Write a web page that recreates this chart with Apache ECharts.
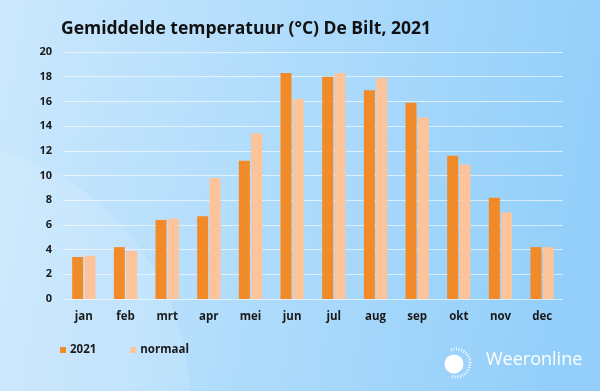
<!DOCTYPE html>
<html>
<head>
<meta charset="utf-8">
<script src="https://cdn.jsdelivr.net/npm/echarts@6/dist/echarts.min.js"></script>
<style>html,body{margin:0;padding:0;}#c{width:600px;height:391px;}</style>
</head>
<body>
<div id="c"></div>
<script>
const categories = ['jan','feb','mrt','apr','mei','jun','jul','aug','sep','okt','nov','dec'];
const values2021 = [3.4, 4.2, 6.4, 6.7, 11.2, 18.3, 18.0, 16.9, 15.9, 11.6, 8.2, 4.2];
const valuesNormaal = [3.5, 3.9, 6.5, 9.8, 13.4, 16.2, 18.3, 17.9, 14.7, 10.9, 7.0, 4.2];
const yTicks = [0, 2, 4, 6, 8, 10, 12, 14, 16, 18, 20];

const chart = echarts.init(document.getElementById('c'));
const font = '"Open Sans", "Noto Sans", sans-serif';
chart.setOption({
  backgroundColor: {
    type: 'linear', x: 0, y: 0, x2: 1, y2: 0.3,
    colorStops: [{offset: 0, color: '#cbe8fd'}, {offset: 1, color: '#93cffa'}]
  },
  graphic: [
    { type: 'circle', z: -10, shape: {cx: -72, cy: 402, r: 262}, style: {fill: 'rgba(255,255,255,0.13)'} },
    { type: 'circle', shape: {cx: 454, cy: 364, r: 9.5}, style: {fill: '#ffffff'} },
    { type: 'arc', shape: {cx: 456, cy: 363, r: 14, startAngle: -Math.PI * 0.62, endAngle: Math.PI * 0.62}, style: {fill: 'none', stroke: 'rgba(255,255,255,0.9)', lineWidth: 3, lineDash: [1, 1.6]} },
    { type: 'text', left: 486, top: 351, style: {text: 'Weeronline', fill: '#ffffff', font: '18px ' + font} }
  ],
  title: {
    text: 'Gemiddelde temperatuur (°C) De Bilt, 2021',
    left: 56, top: 15,
    textStyle: {fontFamily: font, fontWeight: 'bold', fontSize: 17.5, color: '#111'}
  },
  legend: {
    left: 55, top: 339,
    itemWidth: 6, itemHeight: 6, itemGap: 34,
    icon: 'rect',
    textStyle: {fontFamily: font, fontWeight: 'bold', fontSize: 11.5, color: '#1a1a1a', padding: [0,0,0,-1]},
    data: ['2021', 'normaal']
  },
  grid: {left: 63, right: 37, top: 52, bottom: 92},
  xAxis: {
    type: 'category', data: categories,
    axisLine: {show: false}, axisTick: {show: false},
    axisLabel: {fontFamily: font, fontWeight: 'bold', fontSize: 11.5, color: '#1a1a1a', margin: 12}
  },
  yAxis: {
    type: 'value', min: 0, max: 20, interval: 2,
    axisLabel: {fontFamily: font, fontWeight: 'bold', fontSize: 11, color: '#1a1a1a', margin: 11,
      formatter: v => yTicks.includes(v) ? String(v) : ''},
    splitLine: {lineStyle: {color: 'rgba(255,255,255,0.6)', width: 1}},
    axisLine: {show: false}, axisTick: {show: false}
  },
  series: [
    {name: '2021', type: 'bar', data: values2021, barWidth: 11, barGap: '12%', itemStyle: {color: '#f28a28'}},
    {name: 'normaal', type: 'bar', data: valuesNormaal, barWidth: 11, itemStyle: {color: '#fdc39b'}}
  ]
});
</script>
</body>
</html>
